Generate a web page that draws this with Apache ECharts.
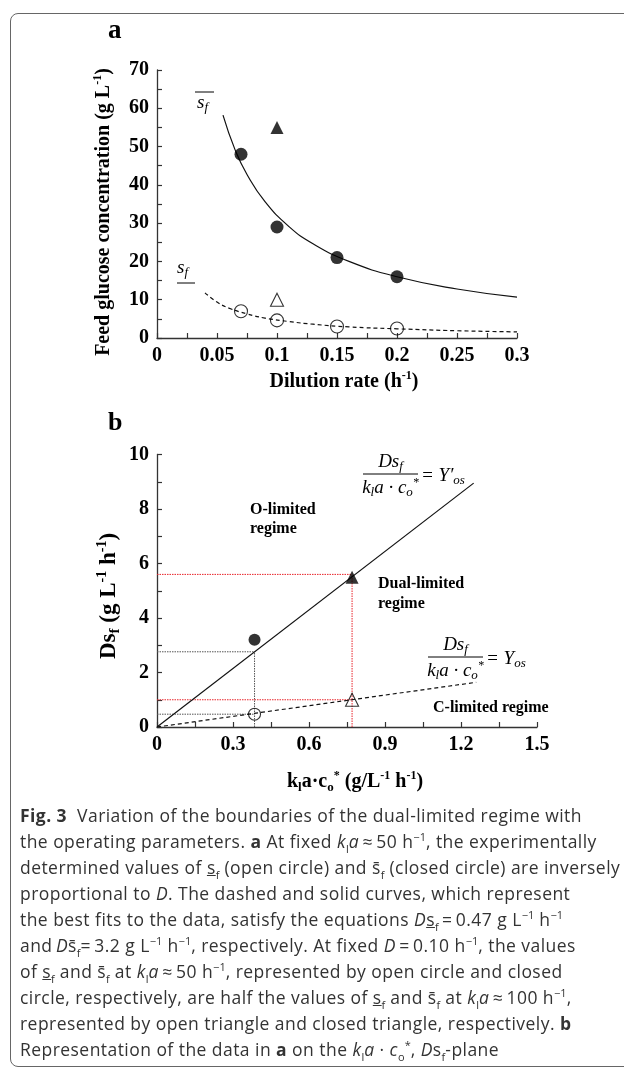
<!DOCTYPE html>
<html>
<head>
<meta charset="utf-8">
<script src="https://cdn.jsdelivr.net/npm/echarts@6/dist/echarts.min.js"></script>
<style>
	html, body { margin: 0; padding: 0; background: #fff; overflow: hidden; width: 624px; height: 1069px; }
	#marco { position: absolute; left: 10px; top: 13px; width: 700px; height: 1052px; border: 1.2px solid #666; border-radius: 8px; }
	#grafica { position: absolute; left: 0; top: 0; width: 624px; height: 1069px; }
	#leyenda { position: absolute; left: 20px; top: 802px; font-family: "Open Sans", sans-serif; font-size: 17.5px; letter-spacing: 0.45px; line-height: 26px; color: #333; white-space: nowrap; }
	#leyenda sub, #leyenda sup { font-size: 11px; line-height: 0; letter-spacing: 0; }
	#leyenda .un { text-decoration: underline; }
</style>
</head>
<body>
<div id="marco"></div>
<div id="grafica"></div>
<div id="leyenda">
	<div><b>Fig. 3</b>&nbsp; Variation of the boundaries of the dual-limited regime with</div>
	<div>the operating parameters. <b>a</b> At fixed <i>k</i><sub>l</sub><i>a</i>&thinsp;≈&thinsp;50 h<sup>−1</sup>, the experimentally</div>
	<div>determined values of <span class="un">s</span><sub>f</sub> (open circle) and s&#772;<sub>f</sub> (closed circle) are inversely</div>
	<div>proportional to <i>D</i>. The dashed and solid curves, which represent</div>
	<div>the best fits to the data, satisfy the equations <i>D</i><span class="un">s</span><sub>f</sub>&thinsp;=&thinsp;0.47 g L<sup>−1</sup> h<sup>−1</sup></div>
	<div>and&thinsp;<i>D</i>s&#772;<sub>f</sub>=&thinsp;3.2 g L<sup>−1</sup> h<sup>−1</sup>, respectively. At fixed <i>D</i>&thinsp;=&thinsp;0.10 h<sup>−1</sup>, the values</div>
	<div>of <span class="un">s</span><sub>f</sub> and s&#772;<sub>f</sub> at <i>k</i><sub>l</sub><i>a</i>&thinsp;≈&thinsp;50 h<sup>−1</sup>, represented by open circle and closed</div>
	<div>circle, respectively, are half the values of <span class="un">s</span><sub>f</sub> and s&#772;<sub>f</sub> at <i>k</i><sub>l</sub><i>a</i>&thinsp;≈&thinsp;100 h<sup>−1</sup>,</div>
	<div>represented by open triangle and closed triangle, respectively. <b>b</b></div>
	<div>Representation of the data in <b>a</b> on the <i>k</i><sub>l</sub><i>a</i> · <i>c</i><sub>o</sub><sup>*</sup>, <i>D</i>s<sub>f</sub>-plane</div>
</div>
<script>
// ---- panel a: feed glucose vs dilution rate ----
const dilution = [0.07, 0.1, 0.15, 0.2];
const sfBarObs = [48, 29, 21, 16];        // closed circles
const sfObs = [7, 4.6, 3, 2.5];           // open circles
const dTriangle = [0.1];
const sfBarTri = [55];                    // closed triangle
const sfTri = [10];                       // open triangle
// solid curve
const fitBarD = [0.055, 0.065, 0.075, 0.09, 0.11, 0.13, 0.16, 0.2, 0.25, 0.3];
const fitBarS = [58.2, 49.2, 42.7, 35.6, 29.1, 24.6, 20, 16, 12.8, 10.7];
// dashed curve
const fitD = [0.04, 0.05, 0.06, 0.075, 0.09, 0.11, 0.13, 0.16, 0.2, 0.25, 0.3];
const fitS = [11.8, 9.4, 7.8, 6.3, 5.2, 4.3, 3.6, 2.9, 2.4, 1.9, 1.6];
const dRange = [0, 0.3], dStep = 0.05;
const sRange = [0, 70], sStep = 10;

// ---- panel b: Ds_f vs kla*co ----
const kla = [0.385, 0.77];
const dsBar = [3.2, 5.5];                 // closed circle, closed triangle
const ds = [0.47, 1.0];                   // open circle, open triangle
const upperLineX = [0, 1.25];
const upperLineY = [0, 8.95];
const lowerLineX = [0, 1.26];
const lowerLineY = [0, 1.64];
const guideTop = [2.76, 5.6];             // dotted guides up to the Y'os line
const guideLow = [0.47, 1.0];
const guideColor = ['#555', '#e8232a'];
const klaRange = [0, 1.5], klaStep = 0.3;
const dsRange = [0, 10], dsStep = 2;

function pairs(xs, ys) {
	return xs.map(function (x, i) { return [x, ys[i]]; });
}

var serif = 'Liberation Serif, Times New Roman, serif';
function richSet(size, weight, style) {
	return {
		n: { fontFamily: serif, fontWeight: weight, fontStyle: style, fontSize: size, lineHeight: size + 4, color: '#000' },
		p: { fontFamily: serif, fontWeight: weight, fontStyle: style, fontSize: Math.round(size * 0.62), lineHeight: Math.round(size * 0.62), verticalAlign: 'top', color: '#000' },
		s: { fontFamily: serif, fontWeight: weight, fontStyle: style, fontSize: Math.round(size * 0.66), lineHeight: Math.round(size * 0.66), verticalAlign: 'bottom', color: '#000' }
	};
}
var richAxis = richSet(20, 'bold', 'normal');
var richAxisBig = richSet(23, 'bold', 'normal');
var richMath = richSet(19, 'normal', 'italic');

function axisStyle(range, step, minorSplit) {
	return {
		type: 'value',
		min: range[0],
		max: range[1],
		interval: step,
		axisLine: { lineStyle: { color: '#333', width: 1.3 } },
		axisTick: { inside: true, length: 5, lineStyle: { color: '#333', width: 1.2 } },
		minorTick: { show: true, splitNumber: minorSplit, length: 5, lineStyle: { color: '#333', width: 1.2 } },
		splitLine: { show: false },
		axisLabel: { fontFamily: serif, fontWeight: 'bold', fontSize: 20, color: '#000', margin: 8 }
	};
}

function marks(xi, name, x, y, symbol, size, filled) {
	return {
		name: name,
		type: 'scatter',
		xAxisIndex: xi, yAxisIndex: xi,
		symbol: symbol,
		symbolSize: size,
		z: 5,
		data: pairs(x, y),
		itemStyle: filled
			? { color: '#000' }
			: { color: 'rgba(0,0,0,0)', borderColor: '#000', borderWidth: 1.1 }
	};
}

function curve(xi, x, y, dashed, smooth) {
	return {
		type: 'line',
		xAxisIndex: xi, yAxisIndex: xi,
		smooth: smooth,
		symbol: 'none',
		z: 3,
		data: pairs(x, y),
		lineStyle: { color: '#111', width: 1.2, type: dashed ? [4, 3] : 'solid' }
	};
}

function guide(x, y, color) {
	return {
		type: 'line',
		xAxisIndex: 1, yAxisIndex: 1,
		symbol: 'none',
		z: 2,
		data: pairs(x, y),
		lineStyle: { color: color, width: 1, type: [1.5, 1] }
	};
}

var series = [
	curve(0, fitBarD, fitBarS, false, true),
	curve(0, fitD, fitS, true, true),
	marks(0, 'sfBar', dilution, sfBarObs, 'circle', 13, true),
	marks(0, 'sfBarTri', dTriangle, sfBarTri, 'triangle', 13, true),
	marks(0, 'sf', dilution, sfObs, 'circle', 13, false),
	marks(0, 'sfTri', dTriangle, sfTri, 'triangle', 13, false)
];
kla.forEach(function (k, i) {
	series.push(guide([0, k], [guideTop[i], guideTop[i]], guideColor[i]));
	series.push(guide([k, k], [0, guideTop[i]], guideColor[i]));
	series.push(guide([0, k], [guideLow[i], guideLow[i]], guideColor[i]));
});
series.push(curve(1, upperLineX, upperLineY, false, false));
series.push(curve(1, lowerLineX, lowerLineY, true, false));
series.push(marks(1, 'dsBarC', [kla[0]], [dsBar[0]], 'circle', 12, true));
series.push(marks(1, 'dsBarT', [kla[1]], [dsBar[1]], 'triangle', 13, true));
series.push(marks(1, 'dsC', [kla[0]], [ds[0]], 'circle', 12, false));
series.push(marks(1, 'dsT', [kla[1]], [ds[1]], 'triangle', 13, false));

function label(x, y, text, rich, rot, align) {
	return {
		type: 'text', x: x, y: y, rotation: rot || 0, z: 100,
		style: { text: text, rich: rich, align: align || 'center', verticalAlign: 'middle' }
	};
}

function plain(x, y, text, size, lh) {
	return {
		type: 'text', x: x, y: y, z: 100,
		style: {
			text: text, fontFamily: serif, fontWeight: 'bold', fontSize: size,
			lineHeight: lh || size, fill: '#000', align: 'left', verticalAlign: 'top'
		}
	};
}

function hline(x1, x2, y) {
	return { type: 'line', z: 100, shape: { x1: x1, y1: y, x2: x2, y2: y }, style: { stroke: '#000', lineWidth: 1 } };
}

// fraction Ds_f / (k_l a . c_o*) = rhs
function fraction(cx, barY, halfW, rhs) {
	return [
		label(cx, barY - 12, '{n|Ds}{s|f}', richMath),
		hline(cx - halfW, cx + halfW, barY),
		label(cx, barY + 14, '{n|k}{s|l}{n|a · c}{s|o}{p|*}', richMath),
		label(cx + halfW + 3, barY + 2, rhs, richMath, 0, 'left')
	];
}

var graphic = [
	plain(108, 18, 'a', 27),
	plain(108, 410, 'b', 26),
	// axis titles
	label(104, 212, '{n|Feed glucose concentration (g L}{p|-1}{n|)}', richAxis, Math.PI / 2),
	label(344, 382, '{n|Dilution rate (h}{p|-1}{n|)}', richAxis),
	label(109, 596, '{n|Ds}{s|f}{n| (g L}{p|-1}{n| h}{p|-1}{n|)}', richAxisBig, Math.PI / 2),
	label(355, 782, '{n|k}{s|l}{n|a·c}{s|o}{p|*}{n| (g/L}{p|-1}{n| h}{p|-1}{n|)}', richAxis),
	// curve labels in panel a
	label(197, 103, '{n|s}{s|f}', richMath, 0, 'left'),
	hline(195, 214, 92),
	label(177, 268, '{n|s}{s|f}', richMath, 0, 'left'),
	hline(177, 195, 283),
	// regime names in panel b
	plain(250, 500, 'O-limited\nregime', 16, 19),
	plain(378, 574, 'Dual-limited\nregime', 16, 20),
	plain(433, 698, 'C-limited regime', 16, 19)
].concat(
	fraction(390.5, 474, 27.5, '{n|= Y′}{s|os}'),
	fraction(455.5, 657, 27.5, '{n|= Y}{s|os}')
);

var grafica = echarts.init(document.getElementById('grafica'));

var option = {
	animation: false,
	grid: [
		{ left: 157, top: 70, width: 360, height: 268 },
		{ left: 157, top: 454.5, width: 380, height: 272.5 }
	],
	xAxis: [
		axisStyle(dRange, dStep, 2),
		Object.assign(axisStyle(klaRange, klaStep, 2), { gridIndex: 1 })
	],
	yAxis: [
		axisStyle(sRange, sStep, 2),
		Object.assign(axisStyle(dsRange, dsStep, 2), { gridIndex: 1 })
	],
	graphic: graphic,
	series: series
};

grafica.setOption(option);
</script>
</body>
</html>
